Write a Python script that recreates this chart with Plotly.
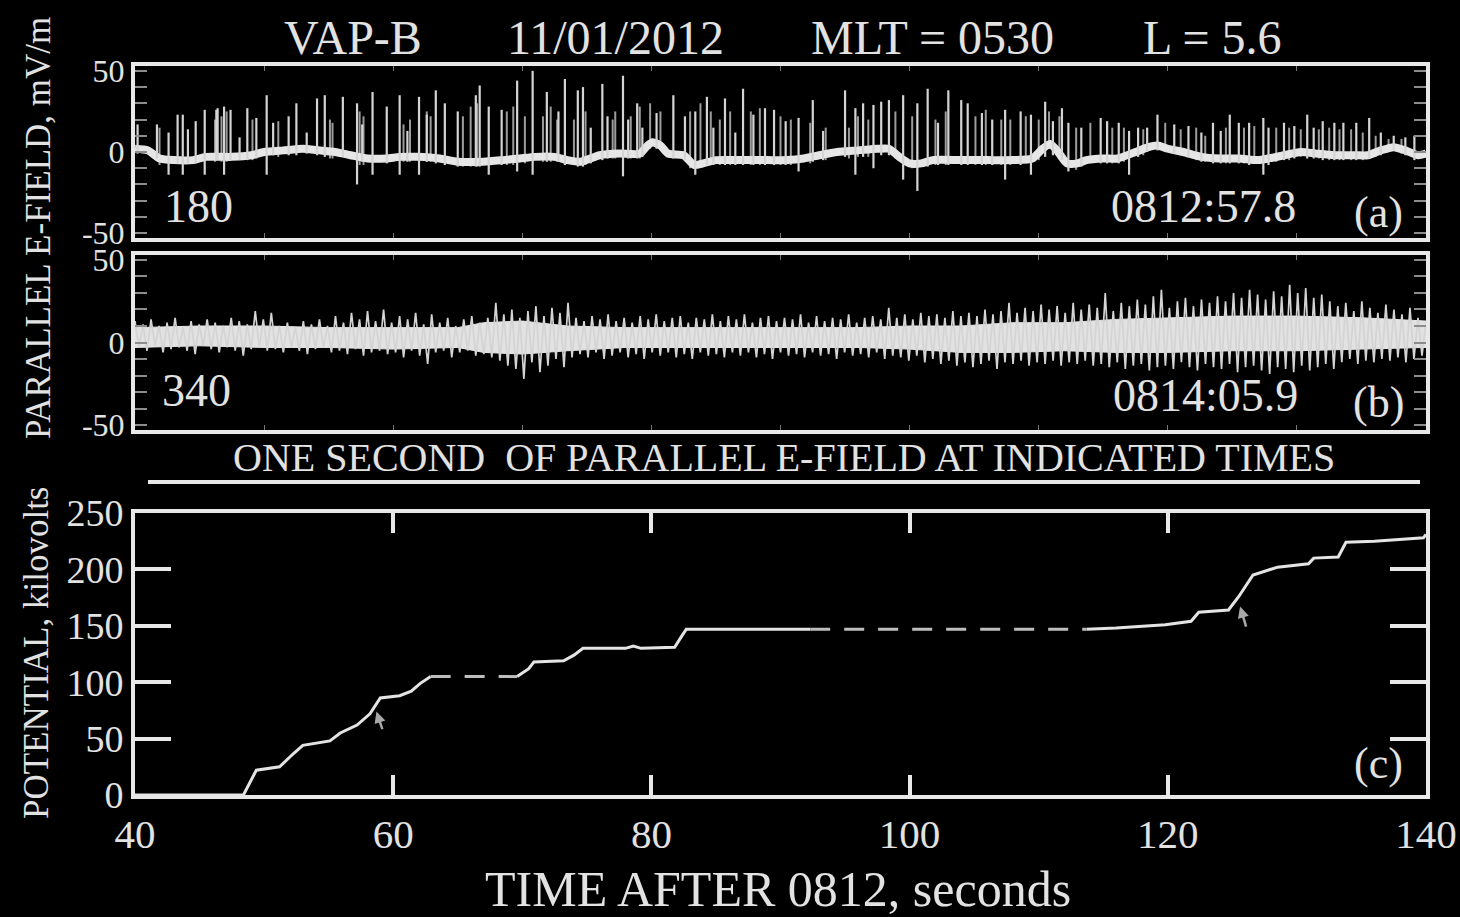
import numpy as np
import plotly.graph_objects as go

W, H = 1460, 917
FONT = "Liberation Serif"
INK = "#e2e2e2"
FRAME = "#e8e8e8"

# ---- (a) one second of parallel E-field, 0812:57.8 ----
# slowly varying background level (time in ms, mV/m)
a_base_t = [0, 10, 19, 30, 45, 55, 75, 90, 100, 115, 130, 143, 155, 167, 180, 195, 205, 220,
            236, 250, 270, 285, 298, 310, 325, 335, 345, 360, 375, 391, 397, 401, 407, 413,
            425, 433, 440, 450, 470, 490, 505, 518, 530, 544, 560, 575, 584, 592, 600, 609,
            618, 640, 660, 680, 695, 703, 709, 715, 722, 730, 737, 750, 761, 775, 785, 792,
            800, 812, 826, 840, 855, 870, 878, 890, 903, 915, 929, 945, 955, 965, 975, 984,
            994, 1000]
a_base_v = [2, 1, -4, -5, -5, -3, -3, -2, 0, 1, 2, 1, 0, -2, -4, -4, -3, -3,
            -4, -6, -6, -5, -4, -3, -3, -5, -6, -2, -1, -1, 4, 6, 4, -1,
            -2, -8, -7, -5, -5, -5, -5, -4, -2, 0, 1, 2, 2, -3, -7, -7,
            -5, -5, -5, -5, -4, 2, 5, 0, -7, -7, -5, -4, -4, 0, 3, 4,
            2, 0, -3, -4, -4, -5, -4, -2, 0, -1, -2, -2, -2, 1, 3, 1,
            -2, -1]
# large spikes: time (ms), upper and lower extent (mV/m)
a_spike_t = [2, 17, 26, 33, 37, 41, 47, 54, 63, 64, 69, 74, 81, 87, 94, 102, 107, 119, 125,
             133, 141, 147, 161, 172, 176, 184, 195, 205, 211, 220, 226, 233, 240, 250, 264,
             267, 274, 284, 296, 308, 319, 328, 333, 343, 347, 353, 362, 366, 378, 382, 389,
             393, 404, 417, 426, 434, 443, 448, 457, 465, 471, 479, 488, 495, 504, 514, 525,
             533, 550, 558, 564, 572, 578, 584, 595, 606, 614, 622, 630, 640, 645, 656, 664,
             674, 686, 694, 705, 711, 718, 723, 733, 748, 753, 762, 770, 777, 784, 792, 805,
             816, 826, 835, 841, 848, 855, 863, 874, 878, 890, 898, 908, 913, 920, 929, 936,
             946, 956, 965, 975, 984, 991]
a_spike_hi = [17, 17, 12, 23, 23, 14, 19, 26, 26, 27, 28, 26, 9, 27, 21, 35, 18, 22, 30,
              12, 33, 35, 34, 30, 17, 37, 28, 35, 13, 34, 23, 38, 30, 25, 35,
              41, 28, 26, 44, 50, 37, 25, 45, 38, 40, 15, 42, 22, 47, 20, 30,
              15, 24, 35, 22, 25, 34, 15, 33, 12, 39, 23, 27, 26, 19, 21, 32,
              13, 38, 27, 30, 29, 31, 32, 35, 30, 39, 18, 38, 32, 30, 24, 20,
              26, 25, 23, 31, 19, 27, 18, 15, 21, 19, 18, 13, 15, 15, 23, 17,
              16, 12, 18, 13, 23, 18, 18, 21, 15, 18, 16, 23, 15, 19, 18, 18,
              18, 21, 12, 10, 9, 10]
a_spike_lo = [-1, -4, -14, -7, -14, -7, -7, -14, -5, -5, -14, -5, -5, -5, -4, -14, -2, -2, -2,
              -1, -2, -3, -3, -20, -6, -14, -7, -14, -6, -14, -6, -7, -8, -9, -9,
              -9, -14, -8, -12, -14, -6, -6, -8, -9, -9, -7, -5, -4, -15, -4, -4,
              -3, 2, -4, -5, -14, -8, -8, -8, -8, -8, -8, -8, -8, -8, -12, -6,
              -5, -3, -14, -3, -10, -2, -2, -17, -24, -9, -8, -8, -8, -8, -8, -8,
              -17, -8, -14, -3, -2, -5, -12, -9, -7, -7, -7, -14, -3, 0, 1, -1,
              -3, -6, -7, -7, -7, -7, -8, -14, -8, -5, -4, -4, -4, -5, -5, -5,
              -5, -4, -2, 1, -2, -5]
# fainter, smaller spikes in between
a_minor_t = [19, 62, 67, 71, 91, 111, 151, 153, 174, 177, 208, 213, 226, 229, 254, 260, 265,
             288, 293, 302, 316, 322, 327, 340, 349, 370, 372, 384, 391, 399, 407, 430, 438,
             446, 453, 461, 477, 484, 500, 508, 523, 535, 553, 560, 568, 589, 602, 620, 628,
             651, 659, 671, 678, 690, 700, 708, 716, 729, 740, 757, 766, 781, 798, 810, 822,
             829, 845, 859, 867, 884, 894, 903, 917, 925, 933, 942, 951, 961, 971, 981]
a_minor_hi = [15, 20, 22, 25, 20, 19, 20, 18, 25, 22, 17, 20, 25, 22, 22, 28, 30,
              25, 28, 22, 22, 28, 20, 20, 25, 20, 25, 22, 28, 30, 25, 25, 30,
              25, 20, 25, 25, 27, 22, 20, 18, 15, 15, 22, 20, 25, 22, 20, 25,
              22, 26, 20, 20, 22, 20, 25, 22, 15, 18, 15, 15, 14, 18, 14, 15,
              10, 15, 15, 16, 15, 15, 14, 14, 15, 14, 14, 12, 10, 8, 8]
a_minor_lo = [-8, -6, -6, -6, -5, -3, -4, -4, -8, -8, -6, -6, -6, -6, -9, -9, -9,
              -8, -8, -7, -6, -6, -6, -8, -8, -4, -4, -4, -4, 2, 2, -10, -9,
              -8, -8, -8, -8, -8, -8, -8, -7, -5, -4, -3, -3, -4, -10, -8, -8,
              -8, -8, -8, -8, -7, -5, 2, -4, -11, -7, -7, -6, -2, 1, -2, -5,
              -6, -7, -7, -7, -6, -5, -3, -4, -5, -5, -5, -5, -3, 0, -1]

# ---- (b) one second of parallel E-field, 0814:05.9 (evenly sampled) ----
efield_b = [
    13, -3, 11, -5, 14, -2, 10, -6, 12, -4,
    15, -3, 9, -5, 13, -7, 11, -2, 14, -4,
    12, -6, 10, -3, 15, -5, 13, -8, 11, -4,
    19, -3, 14, -5, 18, -4, 10, -6, 12, -3,
    9, -5, 13, -7, 11, -4, 14, -3, 10, -6,
    16, -5, 12, -7, 18, -4, 14, -8, 19, -6,
    13, -5, 20, -7, 12, -6, 16, -9, 14, -5,
    18, -8, 11, -13, 17, -6, 12, -5, 15, -9,
    10, -6, 14, -5, 16, -8, 12, -7, 15, -9,
    24, -11, 17, -14, 20, -16, 15, -22, 19, -12,
    22, -18, 16, -14, 21, -10, 18, -15, 24, -9,
    15, -7, 13, -9, 16, -6, 14, -10, 17, -8,
    13, -6, 15, -9, 12, -7, 16, -10, 14, -6,
    17, -8, 13, -6, 15, -9, 16, -7, 12, -10,
    15, -6, 14, -8, 17, -7, 13, -9, 16, -6,
    14, -8, 17, -6, 12, -9, 15, -7, 16, -10,
    13, -6, 15, -8, 14, -7, 17, -9, 12, -6,
    16, -8, 13, -7, 15, -10, 14, -6, 17, -8,
    12, -7, 15, -9, 16, -6, 14, -10, 21, -8,
    15, -9, 17, -11, 14, -8, 18, -12, 16, -10,
    17, -13, 15, -11, 19, -14, 16, -12, 18, -15,
    16, -13, 20, -11, 17, -16, 19, -12, 24, -13,
    18, -11, 21, -14, 19, -12, 23, -13, 20, -11,
    22, -14, 18, -12, 24, -13, 20, -11, 23, -14,
    21, -13, 30, -15, 19, -12, 24, -16, 22, -14,
    26, -13, 23, -17, 28, -15, 32, -14, 21, -16,
    25, -12, 27, -15, 22, -17, 26, -13, 24, -15,
    28, -16, 25, -13, 30, -18, 27, -15, 32, -14,
    29, -17, 26, -19, 31, -15, 28, -16, 35, -18,
    30, -14, 33, -17, 27, -15, 29, -13, 25, -16,
    22, -12, 24, -10, 19, -13, 25, -11, 21, -12,
    18, -10, 23, -11, 20, -9, 17, -12, 21, -10,
    15, -8, 12,
]
# densest part of the trace (time in ms, lower / upper edge in mV/m)
b_core_t = [0, 50, 100, 150, 200, 250, 270, 300, 335, 380, 450, 500, 560, 600, 640, 680,
            720, 760, 800, 850, 900, 950, 1000]
b_core_lo = [-3, -2, -3, -3, -4, -3, -6, -7, -5, -3, -3, -3, -3, -4, -6, -6,
             -5, -6, -6, -5, -5, -4, -3]
b_core_hi = [9, 10, 10, 9, 9, 9, 12, 13, 10, 9, 9, 9, 9, 10, 10, 12,
             12, 14, 15, 16, 16, 15, 13]

# ---- (c) accumulated parallel potential (kV) vs time after 0812 (s) ----
pot_t1 = [40, 48.4, 49.4, 51.2, 52.3, 53.0, 55.1, 55.9, 57.2, 58.2, 59.0, 60.5, 61.4, 62.1, 62.9]
pot_v1 = [0, 0, 22, 25, 37, 44, 48, 55, 62, 72, 86, 88, 92, 99, 105]

pot_t2 = [69.6, 70.5, 70.9, 73.2, 74.0, 74.7, 78.0, 78.6, 79.2, 81.8, 82.3, 82.7, 92.3]
pot_v2 = [105, 112, 118, 119, 124, 130, 130, 132, 130, 131, 140, 147, 147]

pot_t3 = [113.7, 116.0, 119.8, 121.8, 122.4, 124.7, 125.5, 126.6, 128.5, 130.9, 131.3,
          133.2, 133.8, 136.0, 139.8, 140.0]
pot_v3 = [147, 148, 151, 154, 162, 164, 176, 195, 202, 205, 210, 211, 224, 225, 228, 231]

# spans without measurements, bridged by dashed lines
gap_t = [[62.9, 69.6], [92.3, 113.7]]
gap_v = [[105, 105], [147, 147]]

# marked instants (time, arrow tail kV, arrow head kV)
marks = [(59.0, 57, 74), (125.9, 148, 167)]

# axis ticks
pot_xticks = [40, 60, 80, 100, 120, 140]
pot_yticks = [0, 50, 100, 150, 200, 250]
ef_xticks = [100, 200, 300, 400, 500, 600, 700, 800, 900]
ef_yticks = list(range(-50, 51, 10))
ef_yticklabels = ["-50" if v == -50 else "0" if v == 0 else "50" if v == 50 else "" for v in ef_yticks]


def px(x):
    return x / W


def py(y):
    return 1 - y / H


def strokes(ts, his, los):
    """Vertical strokes from lower to upper extent, separated by gaps."""
    xs, ys = [], []
    for t, hi, lo in zip(ts, his, los):
        xs += [t, t, None]
        ys += [lo, hi, None]
    return xs, ys


fig = go.Figure()

# panel (a): background level as a bright band, spikes as vertical strokes
mx, my = strokes(a_minor_t, a_minor_hi, a_minor_lo)
fig.add_trace(go.Scatter(x=mx, y=my, mode="lines", xaxis="x", yaxis="y",
                         line=dict(color="#9c9c9c", width=2), hoverinfo="skip"))
fig.add_trace(go.Scatter(x=a_base_t, y=a_base_v, mode="lines", xaxis="x", yaxis="y",
                         line=dict(color="#e6e6e6", width=8, shape="spline", smoothing=0.6),
                         hoverinfo="skip"))
sx, sy = strokes(a_spike_t, a_spike_hi, a_spike_lo)
fig.add_trace(go.Scatter(x=sx, y=sy, mode="lines", xaxis="x", yaxis="y",
                         line=dict(color="#d4d4d4", width=2.2), hoverinfo="skip"))

# panel (b): dense core plus the sampled waveform
fig.add_trace(go.Scatter(x=b_core_t, y=b_core_lo, mode="lines", xaxis="x2", yaxis="y2",
                         line=dict(color="#e6e6e6", width=1), hoverinfo="skip"))
fig.add_trace(go.Scatter(x=b_core_t, y=b_core_hi, mode="lines", xaxis="x2", yaxis="y2",
                         fill="tonexty", fillcolor="#e2e2e2",
                         line=dict(color="#e6e6e6", width=1), hoverinfo="skip"))
t_b = np.linspace(0, 1000, len(efield_b))
fig.add_trace(go.Scatter(x=t_b, y=efield_b, mode="lines", xaxis="x2", yaxis="y2",
                         line=dict(color="#d4d4d4", width=1.7), hoverinfo="skip"))

# panel (c)
for tt, vv in ((pot_t1, pot_v1), (pot_t2, pot_v2), (pot_t3, pot_v3)):
    fig.add_trace(go.Scatter(x=tt, y=vv, mode="lines", xaxis="x3", yaxis="y3",
                             line=dict(color="#e4e4e4", width=3), hoverinfo="skip"))
for tt, vv in zip(gap_t, gap_v):
    fig.add_trace(go.Scatter(x=tt, y=vv, mode="lines", xaxis="x3", yaxis="y3",
                             line=dict(color="#bdbdbd", width=3, dash="20px,14px"),
                             hoverinfo="skip"))

xdom = [px(135), px(1426)]
frame = dict(showline=True, linewidth=4, linecolor=FRAME, mirror="ticks",
             showgrid=False, zeroline=False, ticks="inside", automargin=False)

ef_x = dict(frame, range=[0, 1000], tickvals=ef_xticks,
            ticklen=5, tickwidth=1, tickcolor="#777777", showticklabels=False)
ef_y = dict(frame, range=[-53, 53], tickvals=ef_yticks, ticktext=ef_yticklabels,
            ticklen=12, tickwidth=1.5, tickcolor="#8c8c8c",
            tickfont=dict(family=FONT, size=32, color=INK))

fig.update_layout(
    width=W, height=H,
    margin=dict(l=0, r=0, t=0, b=0, autoexpand=False),
    paper_bgcolor="black", plot_bgcolor="black",
    showlegend=False,
    xaxis=dict(ef_x, domain=xdom, anchor="y"),
    yaxis=dict(ef_y, domain=[py(238), py(66)], anchor="x"),
    xaxis2=dict(ef_x, domain=xdom, anchor="y2"),
    yaxis2=dict(ef_y, domain=[py(430), py(255)], anchor="x2"),
    xaxis3=dict(frame, domain=xdom, anchor="y3", range=[40, 140],
                tickvals=pot_xticks, ticklen=20, tickwidth=4, tickcolor=FRAME,
                tickfont=dict(family=FONT, size=41, color=INK)),
    yaxis3=dict(frame, domain=[py(795), py(513)], anchor="x3", range=[0, 250],
                tickvals=pot_yticks, ticklen=36, tickwidth=4, tickcolor=FRAME,
                tickfont=dict(family=FONT, size=38, color=INK)),
)

ann = []


def label(text, x, y, size, xanchor="center", angle=0):
    ann.append(dict(text=text, x=px(x), y=py(y), xref="paper", yref="paper",
                    xanchor=xanchor, yanchor="middle", showarrow=False, textangle=angle,
                    font=dict(family=FONT, size=size, color=INK)))


# header
label("VAP-B", 353, 37, 48)
label("11/01/2012", 615, 37, 48)
label("MLT = 0530", 933, 37, 48)
label("L = 5.6", 1212, 37, 48)

# panel captions
label("180", 162, 207, 46, "left")
label("0812:57.8", 1298, 207, 46, "right")
label("(a)", 1378, 212, 44)
label("340", 160, 390, 46, "left")
label("0814:05.9", 1300, 395, 46, "right")
label("(b)", 1378, 402, 44)
label("(c)", 1378, 763, 44)
label("ONE SECOND\u00a0\u00a0OF PARALLEL E-FIELD AT INDICATED TIMES", 784, 457, 40)

# axis titles
label("PARALLEL E-FIELD, mV/m", 38, 228, 35, angle=-90)
label("POTENTIAL, kilovolts", 36, 653, 35, angle=-90)
label("TIME AFTER 0812, seconds", 778, 889, 50)

for t, tail, head in marks:
    ann.append(dict(x=t - 0.3, y=head, ax=t + 0.2, ay=tail, xref="x3", yref="y3",
                    axref="x3", ayref="y3", showarrow=True, arrowhead=2, arrowsize=0.9,
                    arrowwidth=2.5, arrowcolor="#a8a8a8", text=""))

fig.update_layout(annotations=ann)

fig.add_shape(type="line", xref="paper", yref="paper",
              x0=px(148), x1=px(1420), y0=py(482), y1=py(482),
              line=dict(color=FRAME, width=4))

fig.write_html("out.html")
